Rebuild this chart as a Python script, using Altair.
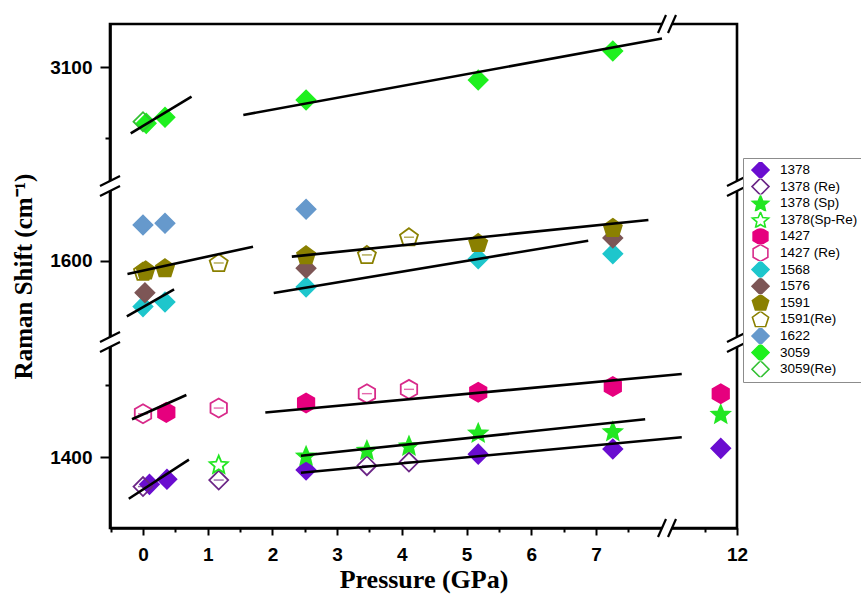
import altair as alt
import pandas as pd
import math

# ---- Raman band positions vs pressure ----
series_names = ["1378", "1378 (Re)", "1378 (Sp)", "1378(Sp-Re)", "1427", "1427 (Re)",
                "1568", "1576", "1591", "1591(Re)", "1622", "3059", "3059(Re)"]

p_1378 = [0.10, 0.37, 2.52, 5.18, 7.26, 11.75]
s_1378 = [1381.0, 1384.5, 1391.0, 1402.0, 1405.5, 1406.0]
p_1378_re = [0.0, 1.17, 3.46, 4.11]
s_1378_re = [1379.5, 1384.0, 1394.0, 1396.5]
p_1378_sp = [2.52, 3.46, 4.11, 5.18, 7.26, 11.75]
s_1378_sp = [1401.0, 1405.0, 1408.0, 1417.0, 1418.0, 1430.0]
p_1378_spre = [1.17]
s_1378_spre = [1395.0]
p_1427 = [0.36, 2.52, 5.18, 7.26, 11.75]
s_1427 = [1431.0, 1437.5, 1445.0, 1449.0, 1444.0]
p_1427_re = [0.0, 1.17, 3.46, 4.11]
s_1427_re = [1430.0, 1434.0, 1444.0, 1447.0]
p_1568 = [0.0, 0.34, 2.52, 5.18, 7.26]
s_1568 = [1568.3, 1571.5, 1582.0, 1601.5, 1605.0]
p_1576 = [0.03, 2.52, 7.26]
s_1576 = [1578.0, 1595.0, 1616.0]
p_1591 = [0.04, 0.34, 2.52, 5.18, 7.26]
s_1591 = [1593.5, 1595.0, 1604.0, 1612.5, 1623.0]
p_1591_re = [0.0, 1.17, 3.46, 4.11]
s_1591_re = [1592.6, 1598.6, 1604.2, 1616.5]
p_1622 = [0.0, 0.34, 2.52]
s_1622 = [1625.0, 1626.2, 1636.0]
p_3059 = [0.05, 0.34, 2.52, 5.18, 7.26]
s_3059 = [3060.3, 3064.6, 3076.8, 3090.8, 3111.3]
p_3059_re = [0.0]
s_3059_re = [3061.5]

series_points = [
    (p_1378, s_1378), (p_1378_re, s_1378_re), (p_1378_sp, s_1378_sp),
    (p_1378_spre, s_1378_spre), (p_1427, s_1427), (p_1427_re, s_1427_re),
    (p_1568, s_1568), (p_1576, s_1576), (p_1591, s_1591), (p_1591_re, s_1591_re),
    (p_1622, s_1622), (p_3059, s_3059), (p_3059_re, s_3059_re),
]

# linear fit segments (start / end)
fit_p0 = [-0.22, -0.17, 1.89, 2.44, 2.44, -0.24, -0.25, 2.30, 2.02, -0.19, 1.55]
fit_s0 = [1371.0, 1426.2, 1430.9, 1400.9, 1389.1, 1591.0, 1561.5, 1603.0, 1577.8, 3053.3, 3066.2]
fit_p1 = [0.71, 0.67, 11.15, 7.76, 11.15, 1.70, 0.48, 7.81, 6.88, 0.75, 8.02]
fit_s1 = [1398.2, 1443.1, 1457.6, 1426.2, 1413.7, 1609.9, 1580.3, 1628.5, 1614.1, 3079.1, 3120.1]

# ---- marker styling ----
def star_path(r_out=1.0, r_in=0.45):
    pts = []
    for i in range(10):
        a = math.radians(-90 + 36 * i)
        r = r_out if i % 2 == 0 else r_in
        pts.append(f"{r * math.cos(a):.3f},{r * math.sin(a) + 0.1:.3f}")
    return "M" + "L".join(pts) + "Z"

HEX = "M0,-1L0.866,-0.5L0.866,0.5L0,1L-0.866,0.5L-0.866,-0.5Z"
PENT = "M0,-0.95L0.951,-0.259L0.588,0.859L-0.588,0.859L-0.951,-0.259Z"
STAR = star_path()

shapes = ["diamond", "diamond", STAR, STAR, HEX, HEX,
          "diamond", "diamond", PENT, PENT, "diamond", "diamond", "diamond"]
strokes = ["#6A0DD0", "#6B2586", "#22E622", "#22E622", "#E6007E", "#D82A8A",
           "#1EC6CC", "#7D5656", "#8A8000", "#8A8000", "#6699CC", "#1EF01E", "#33C033"]
fills = ["#6A0DD0", "transparent", "#22E622", "transparent", "#E6007E", "transparent",
         "#1EC6CC", "#7D5656", "#8A8000", "transparent", "#6699CC", "#1EF01E", "transparent"]
# released-pressure markers carry a small bar across their centre
barred = ["1378 (Re)", "1427 (Re)", "1591(Re)"]

# ---- broken axes: piecewise linear scales ----
x_domain = [-0.51, 8.02, 11.0, 12.0]
x_range = [0, 552, 562, 627]
y_domain = [1350.7, 1476.4, 1547.2, 1648.6, 3019.7, 3130.3]
y_range = [504, 323, 313, 167, 157, 0]

x_scale = alt.Scale(domain=x_domain, range=x_range, nice=False, zero=False)
y_scale = alt.Scale(domain=y_domain, range=y_range, nice=False, zero=False)

x_ticks = [-0.5, 0, 0.5, 1, 1.5, 2, 2.5, 3, 3.5, 4, 4.5, 5, 5.5, 6, 6.5, 7, 7.5, 11.5, 12]
y_ticks = [1400, 1450, 1600, 3050, 3100]
y_labelled = [1400, 1600, 3100]

rows = []
for name, (ps, ss) in zip(series_names, series_points):
    for p, s in zip(ps, ss):
        rows.append({"series": name, "pressure": p, "shift": s,
                     "bar_color": strokes[series_names.index(name)]})
points_df = pd.DataFrame(rows)
bars_df = points_df[points_df["series"].isin(barred)]

fits_df = pd.DataFrame({"p0": fit_p0, "s0": fit_s0, "p1": fit_p1, "s1": fit_s1})

is_int_x = "(abs(datum.value - round(datum.value)) < 0.001 && datum.value > -0.1)"
y_lab_list = "[" + ",".join(str(v) for v in y_labelled) + "]"
is_lab_y = f"(indexof({y_lab_list}, round(datum.value)) >= 0)"

x_axis = alt.Axis(
    values=x_ticks, tickCount=100, title="Pressure (GPa)",
    labelExpr=f"{is_int_x} ? format(round(datum.value), 'd') : ''",
    tickSize={"condition": {"test": f"!{is_int_x}", "value": 4}, "value": 7},
    labelPadding=10, titlePadding=2, labelFlush=False, labelOverlap=False,
    titleFont="Liberation Serif", titleFontSize=26, titleFontWeight="bold",
)
y_axis = alt.Axis(
    values=y_ticks, tickCount=100, title="Raman Shift (cm\u207b\u00b9)",
    labelExpr=f"{is_lab_y} ? format(round(datum.value), 'd') : ''",
    tickSize={"condition": {"test": f"!{is_lab_y}", "value": 5}, "value": 10},
    labelPadding=8, titlePadding=13, labelFlush=False, labelOverlap=False,
    titleFont="Liberation Serif", titleFontSize=25, titleFontWeight="bold",
)

legend = alt.Legend(
    title=None, orient="none", legendX=633, legendY=134, padding=4,
    strokeColor="#8c8c8c", fillColor="white", labelFont="Liberation Sans",
    labelFontSize=13.5, labelColor="black", symbolSize=290, symbolStrokeWidth=1.6,
    rowPadding=0.6, labelOffset=10, clipHeight=16, symbolOffset=4,
)

points = alt.Chart(points_df).mark_point(size=360, strokeWidth=1.8, opacity=1).encode(
    x=alt.X("pressure:Q", scale=x_scale, axis=x_axis),
    y=alt.Y("shift:Q", scale=y_scale, axis=y_axis),
    shape=alt.Shape("series:N", scale=alt.Scale(domain=series_names, range=shapes), legend=legend),
    stroke=alt.Stroke("series:N", scale=alt.Scale(domain=series_names, range=strokes), legend=legend),
    fill=alt.Fill("series:N", scale=alt.Scale(domain=series_names, range=fills), legend=legend),
)

bars = alt.Chart(bars_df).mark_tick(orient="horizontal", size=10, thickness=1.4).encode(
    x=alt.X("pressure:Q", scale=x_scale),
    y=alt.Y("shift:Q", scale=y_scale),
    color=alt.Color("bar_color:N", scale=None),
)

fits = alt.Chart(fits_df).mark_rule(color="black", strokeWidth=2.6).encode(
    x=alt.X("p0:Q", scale=x_scale),
    x2="p1:Q",
    y=alt.Y("s0:Q", scale=y_scale),
    y2="s1:Q",
)

# ---- axis break markers ----
x_edges = [x_domain[0], x_domain[-1]]
y_edges = [y_domain[0], y_domain[-1]]
y_gaps = [(y_domain[1], y_domain[2]), (y_domain[3], y_domain[4])]
x_gap = (x_domain[1], x_domain[2])

vgap_df = pd.DataFrame([{"x": e, "lo": lo, "hi": hi} for e in x_edges for lo, hi in y_gaps])
hgap_df = pd.DataFrame([{"y": e, "lo": x_gap[0], "hi": x_gap[1]} for e in y_edges])
vslash_df = pd.DataFrame([{"x": e, "y": v} for e in x_edges for g in y_gaps for v in g])
hslash_df = pd.DataFrame([{"y": e, "x": v} for e in y_edges for v in x_gap])

vgap = alt.Chart(vgap_df).mark_rule(color="white", strokeWidth=7).encode(
    x=alt.X("x:Q", scale=x_scale), y=alt.Y("lo:Q", scale=y_scale), y2="hi:Q")
hgap = alt.Chart(hgap_df).mark_rule(color="white", strokeWidth=7).encode(
    y=alt.Y("y:Q", scale=y_scale), x=alt.X("lo:Q", scale=x_scale), x2="hi:Q")
vslash = alt.Chart(vslash_df).mark_rule(
    color="black", strokeWidth=2.2, xOffset=-10, x2Offset=10, yOffset=5, y2Offset=-5
).encode(x=alt.X("x:Q", scale=x_scale), x2="x:Q", y=alt.Y("y:Q", scale=y_scale), y2="y:Q")
hslash = alt.Chart(hslash_df).mark_rule(
    color="black", strokeWidth=2.2, xOffset=-4, x2Offset=4, yOffset=9, y2Offset=-9
).encode(x=alt.X("x:Q", scale=x_scale), x2="x:Q", y=alt.Y("y:Q", scale=y_scale), y2="y:Q")

chart = alt.layer(points, bars, fits, vgap, hgap, vslash, hslash).properties(
    width=627, height=504,
    autosize=alt.AutoSizeParams(type="none"),
    padding={"left": 110, "top": 24, "right": 124, "bottom": 73},
    background="white",
).configure_view(
    stroke="black", strokeWidth=2.6,
).configure_axis(
    domainColor="black", domainWidth=2.6, tickColor="black", tickWidth=2,
    labelFont="Liberation Sans", labelFontSize=19, labelFontWeight="bold",
    labelColor="black", titleColor="black", grid=False,
)

chart.save("out.html", embed_options={"renderer": "svg", "actions": False})
